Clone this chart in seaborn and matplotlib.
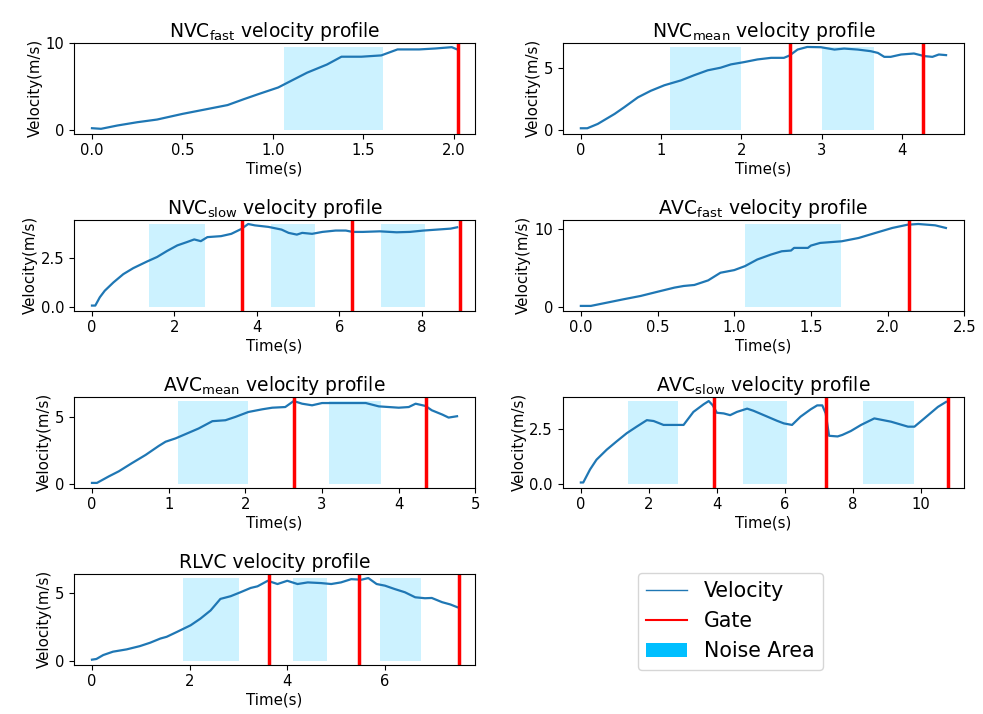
import numpy as np
import pandas as pd
import matplotlib
matplotlib.use('Agg')
import matplotlib.pyplot as plt
import seaborn as sns
from matplotlib.lines import Line2D
from matplotlib.patches import Patch

# ---------------- data ----------------
# NVC fast
nvc_fast_t = [0, .05, .14, .25, .36, .5, .64, .75, .84, .92, 1.03, 1.1, 1.19, 1.3, 1.38,
              1.49, 1.6, 1.69, 1.81, 1.9, 1.99, 2.02]
nvc_fast_v = [.15, .08, .46, .84, 1.15, 1.8, 2.37, 2.82, 3.5, 4.08, 4.85, 5.6, 6.56, 7.5, 8.4,
              8.4, 8.55, 9.24, 9.24, 9.35, 9.5, 9.24]
nvc_fast_noise = [(1.061, 1.611)]
nvc_fast_gates = [2.024]

# NVC mean
nvc_mean_t = [0, .08, .21, .42, .54, .71, .87, 1.04, 1.25, 1.41, 1.58, 1.74, 1.87, 2.03, 2.2,
              2.37, 2.53, 2.6, 2.7, 2.82, 2.99, 3.16, 3.28, 3.45, 3.61, 3.7, 3.78, 3.86, 3.99,
              4.15, 4.28, 4.38, 4.46, 4.55]
nvc_mean_v = [.1, .1, .45, 1.26, 1.8, 2.6, 3.13, 3.58, 3.98, 4.39, 4.79, 5.0, 5.27, 5.45, 5.67,
              5.8, 5.8, 5.99, 6.47, 6.68, 6.66, 6.47, 6.55, 6.47, 6.34, 6.2, 5.88, 5.88, 6.07,
              6.15, 5.94, 5.88, 6.07, 6.02]
nvc_mean_noise = [(1.113, 1.993), (3.01, 3.646)]
nvc_mean_gates = [2.604, 4.257]

# NVC slow
nvc_slow_t = [0, .08, .19, .31, .52, .76, 1.0, 1.33, 1.58, 1.82, 2.07, 2.3, 2.48, 2.64, 2.8,
              3.13, 3.38, 3.62, 3.79, 3.95, 4.28, 4.6, 4.77, 4.97, 5.1, 5.34, 5.59, 5.91, 6.16,
              6.32, 6.57, 6.98, 7.39, 7.71, 8.04, 8.37, 8.7, 8.86]
nvc_slow_v = [.05, .05, .48, .82, 1.25, 1.68, 1.99, 2.33, 2.57, 2.88, 3.17, 3.34, 3.48, 3.39, 3.6,
              3.65, 3.77, 4.02, 4.28, 4.21, 4.13, 3.99, 3.82, 3.73, 3.82, 3.77, 3.87, 3.94, 3.94,
              3.87, 3.87, 3.9, 3.85, 3.87, 3.94, 3.99, 4.04, 4.11]
nvc_slow_noise = [(1.39, 2.74), (4.34, 5.42), (7.02, 8.08)]
nvc_slow_gates = [3.64, 6.32, 8.94]

# AVC fast
avc_fast_t = [0, .065, .17, .28, .39, .5, .61, .67, .74, .83, .91, 1.0, 1.07, 1.15, 1.24, 1.31,
              1.37, 1.39, 1.48, 1.5, 1.56, 1.7, 1.81, 1.92, 2.03, 2.13, 2.2, 2.31, 2.38]
avc_fast_v = [.08, .08, .5, .94, 1.36, 1.9, 2.43, 2.64, 2.77, 3.36, 4.34, 4.68, 5.19, 6.04, 6.68,
              7.1, 7.19, 7.53, 7.53, 7.83, 8.17, 8.38, 8.8, 9.45, 10.09, 10.51, 10.6, 10.43, 10.09]
avc_fast_noise = [(1.073, 1.693)]
avc_fast_gates = [2.141]

# AVC mean
avc_mean_t = [0, .065, .22, .35, .52, .7, .87, .96, 1.09, 1.22, 1.39, 1.57, 1.74, 1.87, 2.04,
              2.22, 2.35, 2.52, 2.63, 2.74, 2.87, 3.0, 3.26, 3.57, 3.74, 4.0, 4.13, 4.22, 4.35,
              4.43, 4.57, 4.65, 4.76]
avc_mean_v = [.05, .05, .54, .92, 1.53, 2.15, 2.82, 3.14, 3.39, 3.71, 4.13, 4.68, 4.75, 5.0, 5.37,
              5.57, 5.69, 5.74, 6.19, 5.99, 5.87, 6.04, 6.04, 6.04, 5.79, 5.69, 5.74, 5.99, 5.82,
              5.5, 5.17, 4.95, 5.05]
avc_mean_noise = [(1.12, 2.04), (3.09, 3.77)]
avc_mean_gates = [2.63, 4.36]

# AVC slow
avc_slow_t = [0, .07, .27, .46, .76, 1.05, 1.35, 1.64, 1.94, 2.14, 2.43, 2.82, 3.02, 3.31, 3.61,
              3.76, 3.88, 4.0, 4.2, 4.39, 4.59, 4.89, 5.08, 5.38, 5.77, 5.97, 6.21, 6.46, 6.76,
              6.95, 7.1, 7.2, 7.3, 7.55, 7.69, 7.94, 8.24, 8.63, 9.12, 9.62, 9.81, 10.1, 10.5, 10.74]
avc_slow_v = [.05, .05, .65, 1.1, 1.56, 1.94, 2.32, 2.62, 2.92, 2.88, 2.7, 2.7, 2.7, 3.3, 3.65,
              3.8, 3.6, 3.26, 3.23, 3.15, 3.3, 3.45, 3.35, 3.15, 2.89, 2.77, 2.7, 3.08, 3.42,
              3.6, 3.6, 3.23, 2.2, 2.17, 2.24, 2.42, 2.7, 3.0, 2.85, 2.62, 2.62, 3.0, 3.53, 3.76]
avc_slow_noise = [(1.39, 2.87), (4.77, 6.07), (8.3, 9.8)]
avc_slow_gates = [3.92, 7.2, 10.81]

# RLVC
rlvc_t = [0, .09, .23, .43, .71, .98, 1.19, 1.4, 1.53, 1.74, 2.02, 2.22, 2.43, 2.63, 2.84, 3.04,
          3.25, 3.39, 3.6, 3.8, 4.0, 4.21, 4.42, 4.69, 4.9, 5.1, 5.31, 5.52, 5.66, 5.83, 6.0,
          6.2, 6.41, 6.62, 6.82, 6.96, 7.17, 7.34, 7.48]
rlvc_v = [.07, .12, .41, .66, .83, 1.07, 1.32, 1.63, 1.76, 2.12, 2.61, 3.1, 3.71, 4.56, 4.76, 5.05,
          5.37, 5.49, 5.9, 5.66, 5.9, 5.66, 5.78, 5.73, 5.66, 5.78, 6.02, 5.98, 6.1, 5.66, 5.54,
          5.29, 5.05, 4.68, 4.61, 4.63, 4.32, 4.15, 3.95]
rlvc_noise = [(1.86, 3.01), (4.11, 4.82), (5.9, 6.74)]
rlvc_gates = [3.62, 5.47, 7.51]

titles = [r'NVC$_{\mathrm{fast}}$ velocity profile', r'NVC$_{\mathrm{mean}}$ velocity profile',
          r'NVC$_{\mathrm{slow}}$ velocity profile', r'AVC$_{\mathrm{fast}}$ velocity profile',
          r'AVC$_{\mathrm{mean}}$ velocity profile', r'AVC$_{\mathrm{slow}}$ velocity profile',
          'RLVC velocity profile']
yticks = [[0, 10], [0, 5], [0, 2.5], [0, 10], [0, 5], [0, 2.5], [0, 5]]
xticks = [[0, 0.5, 1.0, 1.5, 2.0], [0, 1, 2, 3, 4], [0, 2, 4, 6, 8],
          [0, 0.5, 1.0, 1.5, 2.0, 2.5], [0, 1, 2, 3, 4, 5], [0, 2, 4, 6, 8, 10], [0, 2, 4, 6]]

panels = [
    (nvc_fast_t, nvc_fast_v, nvc_fast_noise, nvc_fast_gates),
    (nvc_mean_t, nvc_mean_v, nvc_mean_noise, nvc_mean_gates),
    (nvc_slow_t, nvc_slow_v, nvc_slow_noise, nvc_slow_gates),
    (avc_fast_t, avc_fast_v, avc_fast_noise, avc_fast_gates),
    (avc_mean_t, avc_mean_v, avc_mean_noise, avc_mean_gates),
    (avc_slow_t, avc_slow_v, avc_slow_noise, avc_slow_gates),
    (rlvc_t, rlvc_v, rlvc_noise, rlvc_gates),
]

# ---------------- plot ----------------
fig, axes = plt.subplots(4, 2, figsize=(9.83, 7.14), dpi=100)
fig.subplots_adjust(left=0.075, right=0.981, top=0.94, bottom=0.069, hspace=0.95, wspace=0.217)
axes = axes.flatten()

for i, (t, v, noise, gates) in enumerate(panels):
    ax = axes[i]
    df = pd.DataFrame({'Time': t, 'Velocity': v})
    top = max(v)
    for a, b in noise:
        ax.fill_between([a, b], 0, top, color='deepskyblue', alpha=0.2, linewidth=0)
    sns.lineplot(data=df, x='Time', y='Velocity', ax=ax, color='#1f77b4', linewidth=1.6)
    for g in gates:
        ax.axvline(g, color='red', linewidth=2.5)
    ax.set_xticks(xticks[i])
    ax.set_yticks(yticks[i])
    ax.set_title(titles[i], fontsize=13.5, pad=4)
    ax.set_xlabel('Time(s)', fontsize=10.8, labelpad=2)
    ax.set_ylabel('Velocity(m/s)', fontsize=10.8, labelpad=2)
    ax.tick_params(labelsize=10.6)

axes[7].axis('off')

handles = [Line2D([0], [0], color='#1f77b4', linewidth=1),
           Line2D([0], [0], color='red', linewidth=1.5),
           Patch(facecolor='deepskyblue')]
fig.legend(handles, ['Velocity', 'Gate', 'Noise Area'], loc='center',
           bbox_to_anchor=(0.743, 0.130), fontsize=14.8)

fig.savefig('out.png', dpi=100)
